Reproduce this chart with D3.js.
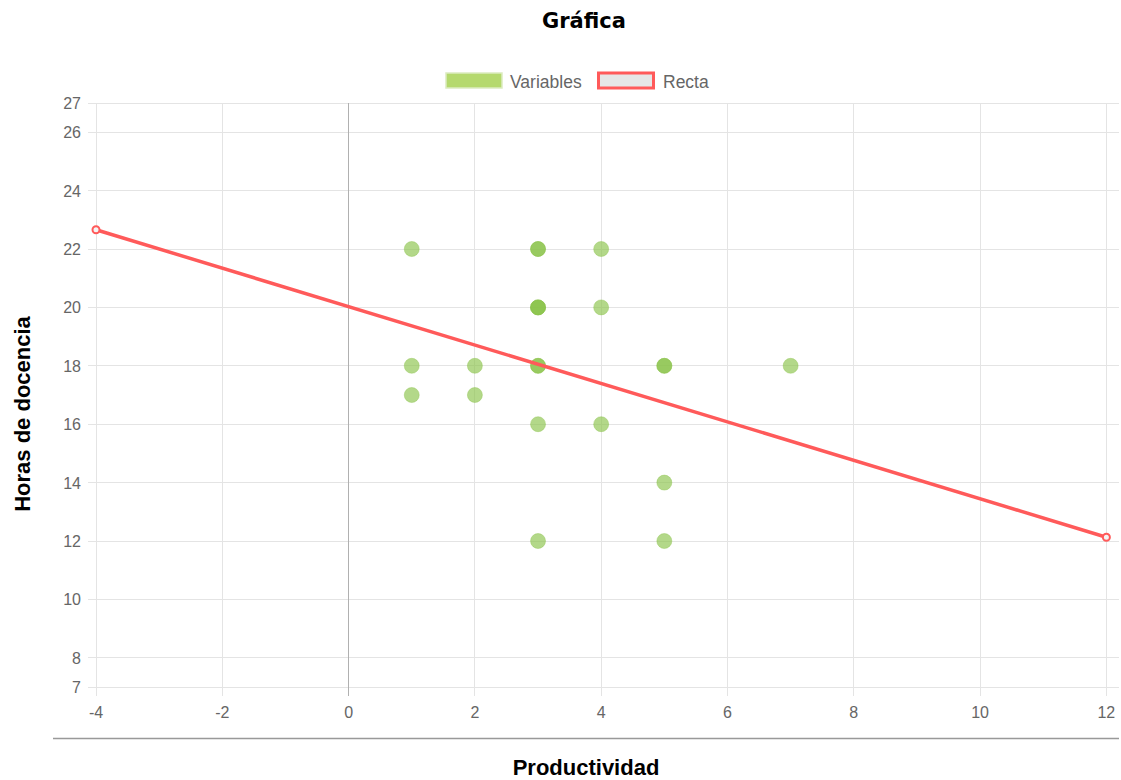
<!DOCTYPE html>
<html><head><meta charset="utf-8">
<script src="https://cdn.jsdelivr.net/npm/d3@7"></script>
<style>body{margin:0;background:#fff;font-family:"Liberation Sans",Arial,sans-serif;}</style>
</head><body><svg id="c" width="1121" height="780"></svg>
<script>
const title = "Gráfica";
const xLabel = "Productividad";
const yLabel = "Horas de docencia";
const legendLabels = ["Variables", "Recta"];
const productividad = [1,3,3,4,3,3,3,4,1,2,3,3,5,5,7,1,2,3,4,5,3,5];
const horas         = [22,22,22,22,20,20,20,20,18,18,18,18,18,18,18,17,17,16,16,14,12,12];
const rectaX = [-4, 12];
const rectaY = [22.66, 12.13];
const xTicks = [-4,-2,0,2,4,6,8,10,12];
const yTicks = [7,8,10,12,14,16,18,20,22,24,26,27];

const svg = d3.select("#c");
const L = 96, R = 1119, T = 103, B = 687;
const x = d3.scaleLinear().domain([-4, 12.2]).range([L, R]);
const y = d3.scaleLinear().domain([7, 27]).range([B, T]);

// title
svg.append("text").attr("x", 584).attr("y", 28).attr("text-anchor","middle")
  .attr("font-family","DejaVu Sans").attr("font-size", 21).attr("font-weight","bold").attr("fill","#000").text(title);

// legend
const lg = svg.append("g");
lg.append("rect").attr("x",446).attr("y",73).attr("width",56).attr("height",15)
  .attr("fill","#b5d96e").attr("stroke","#dcebc0").attr("stroke-width",1.5);
lg.append("text").attr("x",510).attr("y",88).attr("font-size",17.5).attr("fill","#666").text(legendLabels[0]);
lg.append("rect").attr("x",598.5).attr("y",73).attr("width",55).attr("height",15)
  .attr("fill","#e6e6e6").attr("stroke","#ff5a5a").attr("stroke-width",3);
lg.append("text").attr("x",663).attr("y",88).attr("font-size",17.5).attr("fill","#666").text(legendLabels[1]);

// grid
const grid = svg.append("g");
grid.selectAll(".hy").data(yTicks).join("line")
  .attr("x1", L-8).attr("x2", R).attr("y1", d=>y(d)).attr("y2", d=>y(d))
  .attr("stroke","#e4e4e4").attr("stroke-width",1).attr("shape-rendering","crispEdges");
grid.selectAll(".vx").data(xTicks).join("line")
  .attr("x1", d=>x(d)).attr("x2", d=>x(d)).attr("y1", T).attr("y2", B+9)
  .attr("stroke", d=> d===0 ? "#b0b0b0" : "#e4e4e4").attr("stroke-width",1).attr("shape-rendering","crispEdges");

// tick labels
svg.append("g").selectAll("text").data(yTicks).join("text")
  .attr("x", 81).attr("y", d=>y(d)+6).attr("text-anchor","end")
  .attr("font-size",16).attr("fill","#666").text(d=>d);
svg.append("g").selectAll("text").data(xTicks).join("text")
  .attr("x", d=>x(d)).attr("y", 718).attr("text-anchor","middle")
  .attr("font-size",16).attr("fill","#666").text(d=>d);

// separator line
svg.append("line").attr("x1",53).attr("x2",1119).attr("y1",738.5).attr("y2",738.5)
  .attr("stroke","#999").attr("stroke-width",1.5);

// axis titles
svg.append("text").attr("x",586).attr("y",775).attr("text-anchor","middle")
  .attr("font-size",22).attr("font-weight","bold").attr("fill","#000").text(xLabel);
svg.append("text").attr("transform","translate(30,414) rotate(-90)").attr("text-anchor","middle")
  .attr("font-size",22).attr("font-weight","bold").attr("fill","#000").text(yLabel);

// points
const pts = productividad.map((v,i)=>({x:v, y:horas[i]}));
svg.append("g").selectAll("circle").data(pts).join("circle")
  .attr("cx", d=>x(d.x)).attr("cy", d=>y(d.y)).attr("r", 7.5)
  .attr("fill","rgba(139,195,74,0.65)").attr("stroke","rgba(139,195,74,0.4)").attr("stroke-width",1);

// line
const rl = rectaX.map((v,i)=>({x:v, y:rectaY[i]}));
svg.append("path").datum(rl)
  .attr("d", d3.line().x(d=>x(d.x)).y(d=>y(d.y)))
  .attr("fill","none").attr("stroke","#ff5a5a").attr("stroke-width",3.5);
svg.append("g").selectAll("circle").data(rl).join("circle")
  .attr("cx", d=>x(d.x)).attr("cy", d=>y(d.y)).attr("r", 3.5)
  .attr("fill","#f4f4f4").attr("stroke","#ff5a5a").attr("stroke-width",2);
</script></body></html>
